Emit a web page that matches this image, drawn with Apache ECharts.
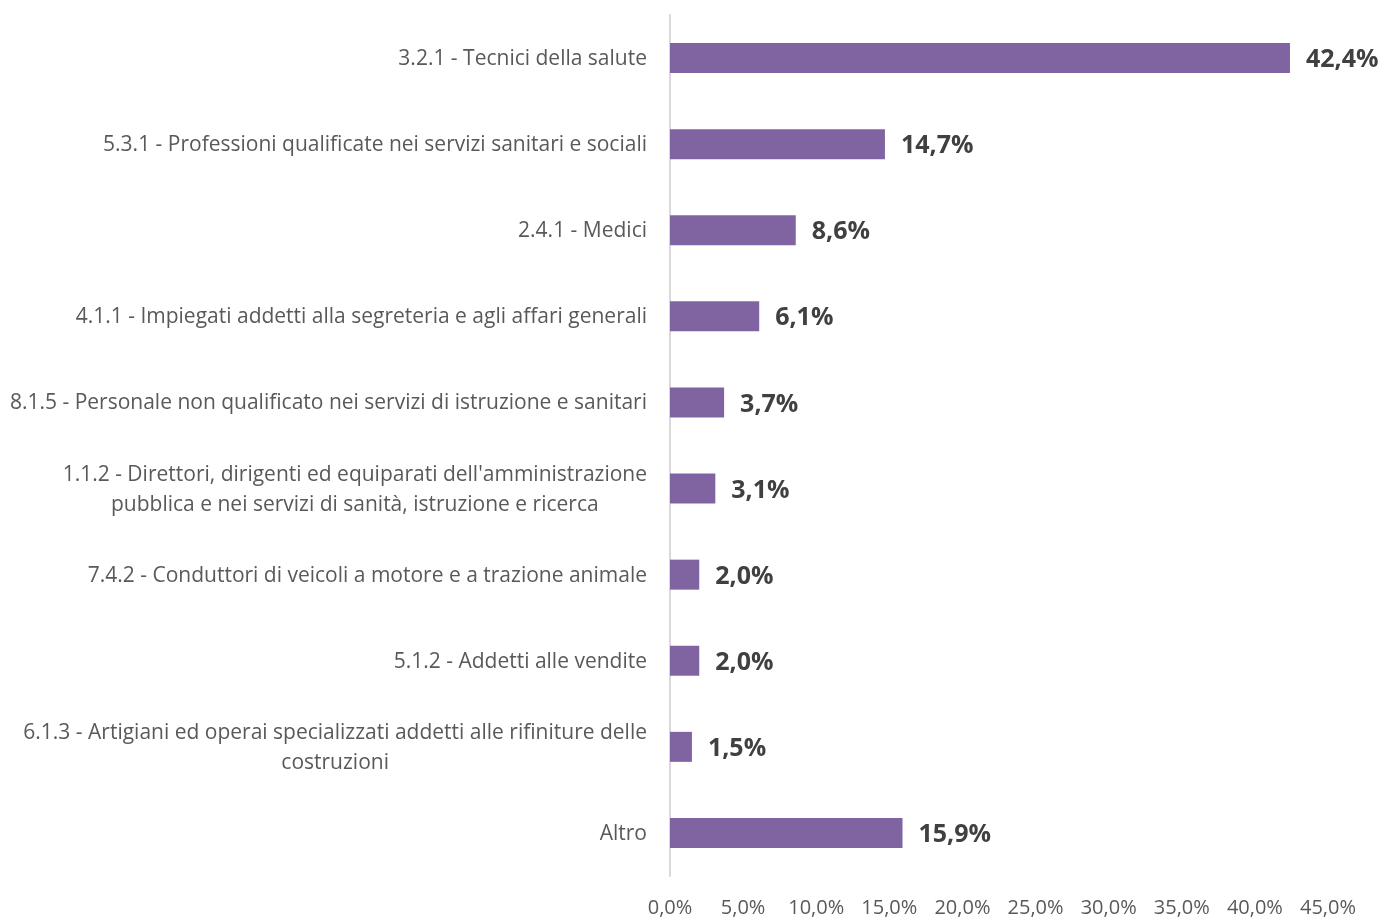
<!DOCTYPE html>
<html>
<head>
<meta charset="utf-8">
<script src="https://cdn.jsdelivr.net/npm/echarts@6/dist/echarts.min.js"></script>
<style>
  html, body { margin: 0; padding: 0; background: #fff; }
  #main { width: 1382px; height: 918px; }
</style>
</head>
<body>
<div id="main"></div>
<script>
var categories = [
  '3.2.1 - Tecnici della salute',
  '5.3.1 - Professioni qualificate nei servizi sanitari e sociali',
  '2.4.1 - Medici',
  '4.1.1 - Impiegati addetti alla segreteria e agli affari generali',
  '8.1.5 - Personale non qualificato nei servizi di istruzione e sanitari',
  "1.1.2 - Direttori, dirigenti ed equiparati dell'amministrazione\npubblica e nei servizi di sanità, istruzione e ricerca",
  '7.4.2 - Conduttori di veicoli a motore e a trazione animale',
  '5.1.2 - Addetti alle vendite',
  '6.1.3 - Artigiani ed operai specializzati addetti alle rifiniture delle\ncostruzioni',
  'Altro'
];
var values = [42.4, 14.7, 8.6, 6.1, 3.7, 3.1, 2.0, 2.0, 1.5, 15.9];

function pct(v) {
  return v.toFixed(1).replace('.', ',') + '%';
}

var myChart = echarts.init(document.getElementById('main'));

var option = {
  backgroundColor: '#ffffff',
  animation: false,
  textStyle: { fontFamily: 'Open Sans' },
  grid: { left: 670, right: 54, top: 15, bottom: 41 },
  xAxis: {
    type: 'value',
    min: 0,
    max: 45,
    interval: 5,
    axisLine: { show: false },
    axisTick: { show: false },
    splitLine: { show: false },
    axisLabel: {
      formatter: function (v) { return pct(v); },
      color: '#595959',
      fontSize: 20,
      margin: 22
    }
  },
  yAxis: {
    type: 'category',
    inverse: true,
    data: categories,
    axisTick: { show: false },
    axisLine: { lineStyle: { color: '#d9d9d9', width: 2 } },
    axisLabel: {
      color: '#595959',
      fontSize: 21,
      margin: 23,
      lineHeight: 30,
      padding: [2, 0, 0, 0],
      formatter: function (v) {
        return v.split('\n').map(function (s) { return '{c|' + s + '}'; }).join('\n');
      },
      rich: {
        c: { align: 'center', color: '#595959', fontSize: 21, lineHeight: 30, fontFamily: 'Open Sans' }
      }
    }
  },
  series: [{
    type: 'bar',
    data: values,
    barWidth: 30,
    itemStyle: { color: '#8064a2' },
    label: {
      show: true,
      position: 'right',
      distance: 16,
      offset: [0, 2],
      formatter: function (p) { return pct(p.value); },
      color: '#404040',
      fontSize: 25,
      fontWeight: 'bold',
      fontFamily: 'Open Sans'
    }
  }]
};

myChart.setOption(option);
</script>
</body>
</html>
